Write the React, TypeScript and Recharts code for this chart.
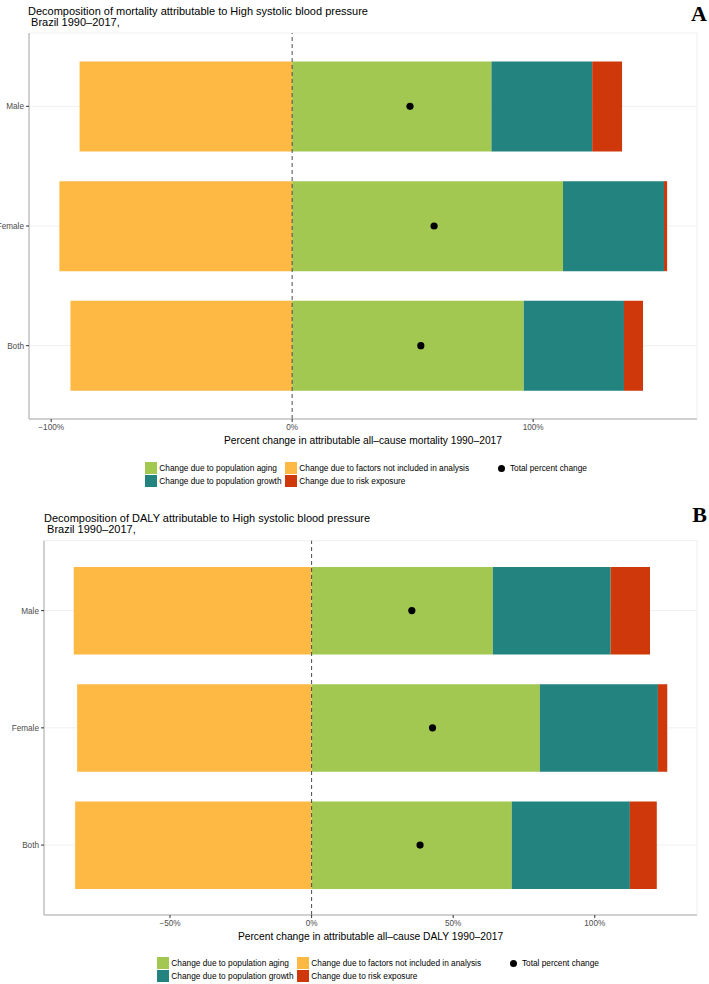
import React from 'react';
import { ComposedChart, Bar, Scatter, XAxis, YAxis, CartesianGrid, ReferenceLine } from 'recharts';

const categories = ['Male', 'Female', 'Both'];

// panel A - mortality, percent change 1990-2017
const mortFactors = [-88.2, -96.6, -92.0];
const mortAging = [82.7, 112.4, 96.1];
const mortGrowth = [41.8, 41.9, 41.6];
const mortRisk = [12.4, 1.3, 7.9];
const mortTotal = [48.9, 58.9, 53.4];
const mortTicks = [-100, 0, 100];
const mortGridTicks = [-100, -50, 0, 50, 100, 150];

// panel B - DALY, percent change 1990-2017
const dalyFactors = [-84.0, -82.8, -83.5];
const dalyAging = [64.0, 80.6, 70.7];
const dalyGrowth = [41.6, 41.7, 41.7];
const dalyRisk = [13.9, 3.3, 9.5];
const dalyTotal = [35.4, 42.7, 38.3];
const dalyTicks = [-50, 0, 50, 100];
const dalyGridTicks = [-75, -50, -25, 0, 25, 50, 75, 100, 125];

const fillSeries = [
  { key: 'factors', name: 'Change due to factors not included in analysis', color: '#FDB944' },
  { key: 'aging', name: 'Change due to population aging', color: '#A2C852' },
  { key: 'growth', name: 'Change due to population growth', color: '#23837F' },
  { key: 'risk', name: 'Change due to risk exposure', color: '#CE380A' },
];
const legendColumns = [['aging', 'growth'], ['factors', 'risk']];
const totalName = 'Total percent change';

const BORDER = '#ABABAB';
const fmt = (v: number) => `${v < 0 ? '\u2212' : ''}${Math.abs(v)}%`;

const Dot = (props: any) => <circle cx={props.cx} cy={props.cy} r={3.6} fill="#000" />;

const Legend = ({ left, top }: { left: number; top: number }) => (
  <div style={{ position: 'absolute', left, top, display: 'flex', fontSize: 8.3, color: '#000' }}>
    {legendColumns.map((col, ci) => (
      <div key={ci} style={{ display: 'flex', flexDirection: 'column', marginLeft: ci === 0 ? 0 : 3.5 }}>
        {col.map((k) => {
          const s = fillSeries.find((f) => f.key === k)!;
          return (
            <div key={k} style={{ display: 'flex', alignItems: 'center', height: 13 }}>
              <div style={{ width: 12, height: 11.7, background: s.color }} />
              <span style={{ marginLeft: 2.3, whiteSpace: 'nowrap' }}>{s.name}</span>
            </div>
          );
        })}
      </div>
    ))}
    <div style={{ display: 'flex', alignItems: 'center', height: 13, marginLeft: 26.5 }}>
      <div style={{ width: 12, height: 12, display: 'flex', alignItems: 'center', justifyContent: 'center' }}>
        <div style={{ width: 7, height: 7, borderRadius: '50%', background: '#000' }} />
      </div>
      <span style={{ marginLeft: 2.3, whiteSpace: 'nowrap' }}>{totalName}</span>
    </div>
  </div>
);

const Panel = ({ p }: { p: any }) => {
  const data = categories.map((name, i) => ({
    name,
    factors: p.factors[i],
    aging: p.aging[i],
    growth: p.growth[i],
    risk: p.risk[i],
    total: p.total[i],
  }));
  return (
    <div style={{ position: 'absolute', left: 0, top: p.top, width: 709, height: p.height }}>
      <ComposedChart
        width={709}
        height={p.height}
        data={data}
        layout="vertical"
        stackOffset="sign"
        margin={{ top: p.plotTop, right: 12, bottom: p.bottom, left: 0 }}
      >
        <CartesianGrid xAxisId="top" stroke="#EBEBEB" strokeWidth={0.8} />
        <XAxis
          type="number"
          domain={p.domain}
          ticks={p.ticks}
          interval={0}
          allowDataOverflow
          tickFormatter={fmt}
          tickSize={3}
          tickMargin={2}
          tickLine={{ stroke: '#333' }}
          tick={{ fill: '#4D4D4D', fontSize: 8.2 }}
          axisLine={{ stroke: BORDER }}
          height={20}
          label={{ value: p.axisTitle, position: 'bottom', offset: -2.6, fill: '#000', fontSize: 10.25 }}
        />
        <XAxis
          xAxisId="top"
          orientation="top"
          type="number"
          domain={p.domain}
          ticks={p.gridTicks}
          interval={0}
          allowDataOverflow
          tick={false}
          tickLine={false}
          height={0}
          axisLine={{ stroke: BORDER }}
        />
        <YAxis
          type="category"
          dataKey="name"
          width={p.yWidth}
          padding={{ top: p.pad, bottom: p.pad }}
          tickSize={3}
          tickMargin={2}
          tickLine={{ stroke: '#333' }}
          tick={{ fill: '#4D4D4D', fontSize: 8.2 }}
          axisLine={{ stroke: BORDER }}
        />
        <YAxis
          yAxisId="right"
          orientation="right"
          type="category"
          dataKey="name"
          width={0}
          tick={false}
          tickLine={false}
          axisLine={{ stroke: BORDER }}
        />
        {fillSeries.map((s) => (
          <Bar key={s.key} dataKey={s.key} name={s.name} stackId="a" fill={s.color} barSize={p.barSize} isAnimationActive={false} />
        ))}
        <ReferenceLine x={0} stroke="#4D4D4D" strokeDasharray="4 3" />
        <Scatter dataKey="total" name={totalName} fill="#000" shape={Dot} isAnimationActive={false} />
      </ComposedChart>
      <div style={{ position: 'absolute', left: p.titleLeft, top: p.titleTop, fontSize: 11, lineHeight: '11px', whiteSpace: 'pre', color: '#000' }}>
        {p.title}
        {'\n Brazil 1990\u20132017,'}
      </div>
      <div style={{ position: 'absolute', right: 2, top: p.letterTop, fontFamily: '"Liberation Serif", serif', fontWeight: 'bold', fontSize: 22, lineHeight: '22px' }}>
        {p.letter}
      </div>
      <Legend left={p.legendLeft} top={p.legendTop} />
    </div>
  );
};

const panelA = {
  factors: mortFactors, aging: mortAging, growth: mortGrowth, risk: mortRisk, total: mortTotal,
  ticks: mortTicks, gridTicks: mortGridTicks, domain: [-109.2, 168],
  title: 'Decomposition of mortality attributable to High systolic blood pressure',
  axisTitle: 'Percent change in attributable all\u2013cause mortality 1990\u20132017',
  letter: 'A',
  top: 0, height: 495, plotTop: 33, bottom: 56, yWidth: 29, pad: 13.5, barSize: 90,
  titleLeft: 28, titleTop: 5.6, letterTop: 3.4, legendLeft: 145, legendTop: 461.5,
};

const panelB = {
  factors: dalyFactors, aging: dalyAging, growth: dalyGrowth, risk: dalyRisk, total: dalyTotal,
  ticks: dalyTicks, gridTicks: dalyGridTicks, domain: [-94.5, 136.1],
  title: 'Decomposition of DALY attributable to High systolic blood pressure',
  axisTitle: 'Percent change in attributable all\u2013cause DALY 1990\u20132017',
  letter: 'B',
  top: 500, height: 484, plotTop: 40.7, bottom: 49, yWidth: 44, pad: 11.3, barSize: 87.5,
  titleLeft: 44, titleTop: 13.1, letterTop: 4.4, legendLeft: 157, legendTop: 456.5,
};

export default function App() {
  return (
    <div style={{ position: 'relative', width: 709, height: 984, overflow: 'hidden', background: '#fff', fontFamily: '"Liberation Sans", Arial, sans-serif' }}>
      <style>{'body{margin:0}'}</style>
      <Panel p={panelA} />
      <Panel p={panelB} />
    </div>
  );
}
